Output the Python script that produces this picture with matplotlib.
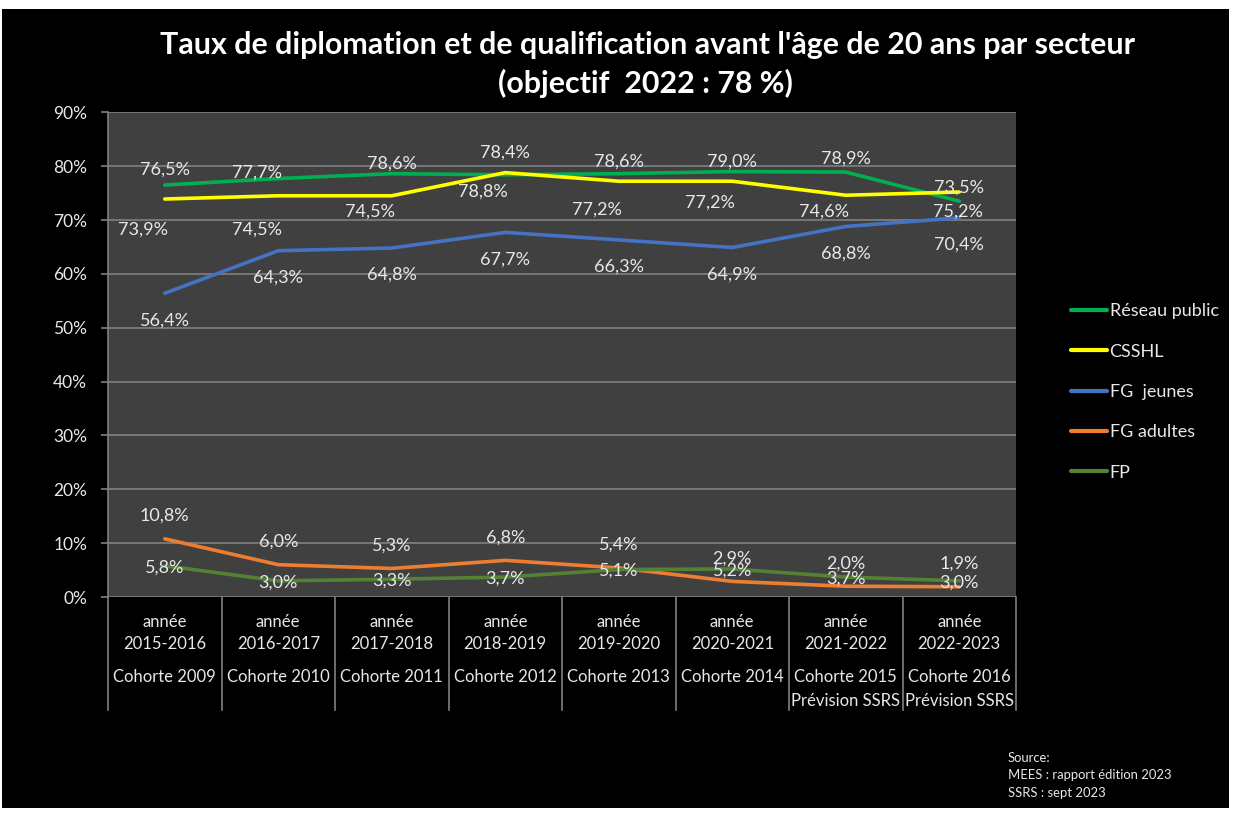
import matplotlib
matplotlib.use("Agg")
import matplotlib.pyplot as plt
from matplotlib.patches import Rectangle
from matplotlib.transforms import blended_transform_factory

plt.rcParams['font.family'] = ['Lato', 'DejaVu Sans']

# Données
annees = ["2015-2016", "2016-2017", "2017-2018", "2018-2019",
          "2019-2020", "2020-2021", "2021-2022", "2022-2023"]
cohortes = ["Cohorte 2009", "Cohorte 2010", "Cohorte 2011", "Cohorte 2012",
            "Cohorte 2013", "Cohorte 2014", "Cohorte 2015", "Cohorte 2016"]
notes = ["", "", "", "", "", "", "Prévision SSRS", "Prévision SSRS"]

reseau_public = [76.5, 77.7, 78.6, 78.4, 78.6, 79.0, 78.9, 73.5]
csshl = [73.9, 74.5, 74.5, 78.8, 77.2, 77.2, 74.6, 75.2]
fg_jeunes = [56.4, 64.3, 64.8, 67.7, 66.3, 64.9, 68.8, 70.4]
fg_adultes = [10.8, 6.0, 5.3, 6.8, 5.4, 2.9, 2.0, 1.9]
fp = [5.8, 3.0, 3.3, 3.7, 5.1, 5.2, 3.7, 3.0]

noms = ["Réseau public", "CSSHL", "FG  jeunes", "FG adultes", "FP"]
couleurs = ["#00B050", "#FFFF00", "#4472C4", "#ED7D31", "#548235"]

# décalage des étiquettes (pixels, vers le bas = positif)
dx_lab = [[0, -21, 0, 0, 0, 0, 0, 0],
          [-22, -21, -22, -22, -22, -22, -22, -1],
          [0] * 8, [0] * 8, [0] * 8]
dy_lab = [[-15, -6, -10, -22, -12, -10, -13, -14],
          [31, 34, 16, 19, 28, 21, 16, 20],
          [27] * 8, [-23] * 8, [1.5] * 8]

txt = "#E8E8E8"
gris = "#808080"

fig = plt.figure(figsize=(12.37, 8.15), dpi=100, facecolor="white")
fig.patches.append(Rectangle((2 / 1237, 1 - 808 / 815), 1227 / 1237, 799 / 815,
                             transform=fig.transFigure, facecolor="black",
                             edgecolor="none", zorder=-10))

ax = fig.add_axes([108 / 1237, 1 - 597 / 815, 908 / 1237, 484.7 / 815])
ax.set_facecolor("#404040")

series = [reseau_public, csshl, fg_jeunes, fg_adultes, fp]
x = list(range(len(annees)))
for k, (vals, nom, c) in enumerate(zip(series, noms, couleurs)):
    ax.plot(x, vals, color=c, lw=2.6, label=nom, zorder=3, solid_capstyle="round")
    for i, v in enumerate(vals):
        ax.annotate(f"{v:.1f}".replace(".", ",") + "%", (i, v),
                    xytext=(dx_lab[k][i], -dy_lab[k][i]), textcoords="offset pixels",
                    ha="center", va="center", fontsize=13, color=txt, zorder=5)

ax.set_xlim(-0.5, 7.5)
ax.set_ylim(0, 90)
ax.set_yticks(range(0, 91, 10))
ax.set_yticklabels([f"{t}%" for t in range(0, 91, 10)])
ax.tick_params(axis="y", colors=gris, labelcolor=txt, labelsize=12.5, length=5, width=1.2, pad=10)
ax.set_xticks([])
ax.grid(axis="y", color=gris, lw=1.2)
ax.set_axisbelow(True)
for s in ["top", "right", "bottom"]:
    ax.spines[s].set_visible(False)
ax.spines["left"].set_color(gris)
ax.spines["left"].set_linewidth(1.2)

# tableau des catégories sous l'axe
trans = blended_transform_factory(ax.transData, ax.transAxes)
h_ax = 484.7
for b in [i - 0.5 for i in range(len(annees) + 1)]:
    ax.plot([b, b], [0, -(710 - 597) / h_ax], transform=trans, color=gris,
            lw=1.2, clip_on=False)
for i in x:
    ax.text(i, -(622 - 597) / h_ax, "année", transform=trans, ha="center",
            va="center", fontsize=12, color=txt)
    ax.text(i, -(644 - 597) / h_ax, annees[i], transform=trans, ha="center",
            va="center", fontsize=12, color=txt)
    ax.text(i, -(677 - 597) / h_ax, cohortes[i], transform=trans, ha="center",
            va="center", fontsize=12, color=txt)
    if notes[i]:
        ax.text(i, -(700.5 - 597) / h_ax, notes[i], transform=trans, ha="center",
                va="center", fontsize=12, color=txt)

# titre
fig.text(647 / 1237, 1 - 45 / 815, "Taux de diplomation et de qualification avant l'âge de 20 ans par secteur",
         ha="center", va="center", fontsize=21.9, fontweight="bold", color="white")
fig.text(645 / 1237, 1 - 83 / 815, "(objectif  2022 : 78 %)",
         ha="center", va="center", fontsize=21.9, fontweight="bold", color="white")

# légende
leg = fig.legend(loc="upper left", bbox_to_anchor=(1064 / 1237, 1 - 296 / 815),
                 frameon=False, fontsize=13, labelcolor=txt, handlelength=2.0,
                 handletextpad=0.12, labelspacing=1.35, borderaxespad=0)
for h in leg.get_lines():
    h.set_linewidth(3)

# source
fig.text(1008 / 1237, 1 - 758 / 815, "Source:", fontsize=9.4, color=txt, va="center")
fig.text(1008 / 1237, 1 - 775 / 815, "MEES : rapport édition 2023", fontsize=9.4, color=txt, va="center")
fig.text(1008 / 1237, 1 - 793 / 815, "SSRS : sept 2023", fontsize=9.4, color=txt, va="center")

fig.savefig("out.png", dpi=100, facecolor=fig.get_facecolor())
